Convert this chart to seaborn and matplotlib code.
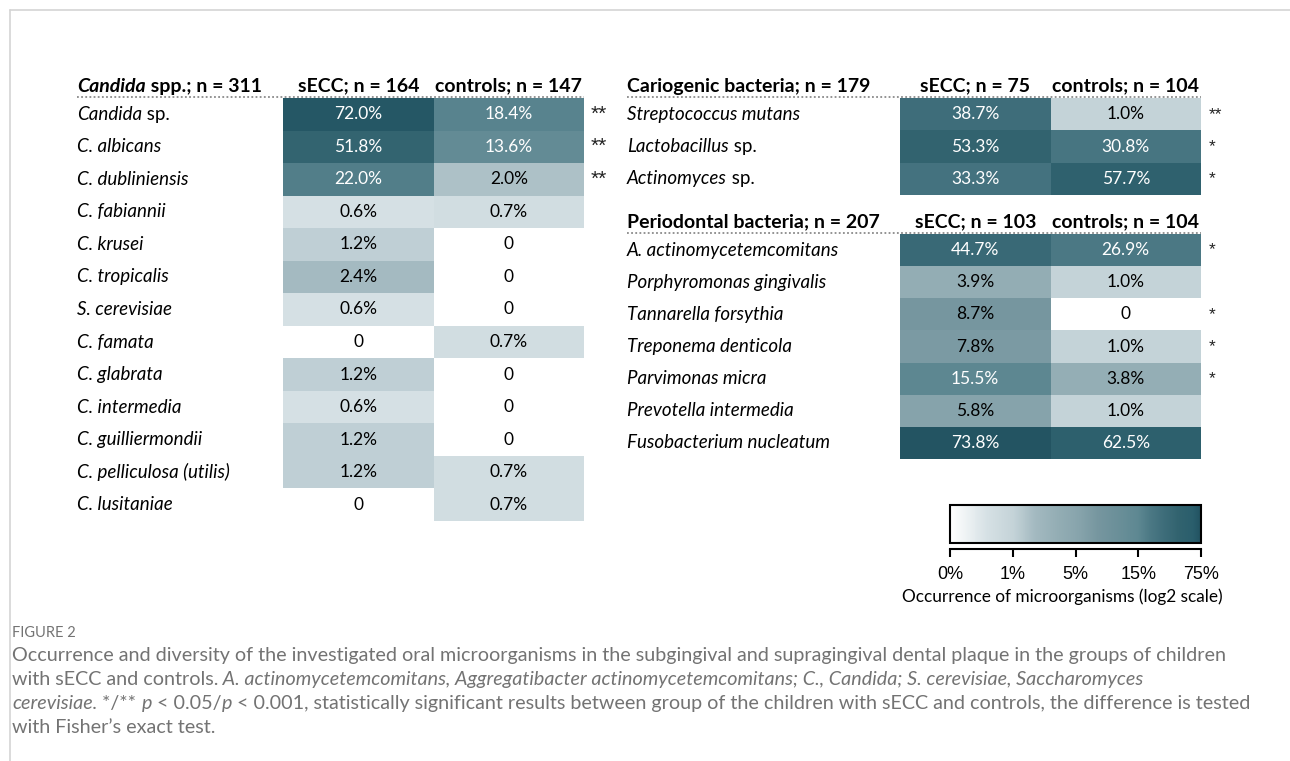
import numpy as np
import pandas as pd
import matplotlib
matplotlib.use("Agg")
import matplotlib.pyplot as plt
import seaborn as sns
from matplotlib import colors as mcolors
from matplotlib import transforms as mtrans
from matplotlib.lines import Line2D

sns.set_theme(style="white")
plt.rcParams['font.family'] = ['Lato', 'DejaVu Sans']

# --- data -------------------------------------------------------------
candida_labels = ["Candida sp.", "C. albicans", "C. dubliniensis", "C. fabiannii",
                  "C. krusei", "C. tropicalis", "S. cerevisiae", "C. famata",
                  "C. glabrata", "C. intermedia", "C. guilliermondii",
                  "C. pelliculosa (utilis)", "C. lusitaniae"]
candida_secc = [72.0, 51.8, 22.0, 0.6, 1.2, 2.4, 0.6, 0, 1.2, 0.6, 1.2, 1.2, 0]
candida_ctrl = [18.4, 13.6, 2.0, 0.7, 0, 0, 0, 0.7, 0, 0, 0, 0.7, 0.7]
candida_sig = ["**", "**", "**", "", "", "", "", "", "", "", "", "", ""]
candida_head = ["Candida spp.; n = 311", "sECC; n = 164", "controls; n = 147"]

cario_labels = ["Streptococcus mutans", "Lactobacillus sp.", "Actinomyces sp."]
cario_secc = [38.7, 53.3, 33.3]
cario_ctrl = [1.0, 30.8, 57.7]
cario_sig = ["**", "*", "*"]
cario_head = ["Cariogenic bacteria; n = 179", "sECC; n = 75", "controls; n = 104"]

perio_labels = ["A. actinomycetemcomitans", "Porphyromonas gingivalis",
                "Tannarella forsythia", "Treponema denticola", "Parvimonas micra",
                "Prevotella intermedia", "Fusobacterium nucleatum"]
perio_secc = [44.7, 3.9, 8.7, 7.8, 15.5, 5.8, 73.8]
perio_ctrl = [26.9, 1.0, 0, 1.0, 3.8, 1.0, 62.5]
perio_sig = ["*", "", "*", "*", "*", "", ""]
perio_head = ["Periodontal bacteria; n = 207", "sECC; n = 103", "controls; n = 104"]

cbar_ticks = [0, 1, 5, 15, 75]
cbar_ticklabels = ["0%", "1%", "5%", "15%", "75%"]

# --- colour scale: ticks evenly spaced on the bar ---------------------
tick_pos = np.linspace(0, 1, len(cbar_ticks))
norm = mcolors.FuncNorm((lambda v: np.interp(v, cbar_ticks, tick_pos),
                         lambda p: np.interp(p, tick_pos, cbar_ticks)),
                        vmin=0, vmax=75)
cmap = mcolors.LinearSegmentedColormap.from_list("occ", [
    (0.0, "#ffffff"), (0.15, "#d5e0e4"), (0.25, "#c4d3d8"), (0.34, "#a3b9c0"),
    (0.43, "#93adb4"), (0.52, "#86a3ab"), (0.59, "#76969f"), (0.75, "#5e8892"),
    (0.80, "#4b7884"), (0.85, "#3e6d7a"), (0.91, "#32636f"), (0.97, "#2a5e6c"),
    (1.0, "#225261")])

W, H = 1290, 761
fig = plt.figure(figsize=(W / 100, H / 100), dpi=100)
renderer = fig.canvas.get_renderer()


def px_axes(x0, y0, x1, y1):
    return fig.add_axes([x0 / W, 1 - y1 / H, (x1 - x0) / W, (y1 - y0) / H])


def rich(x, y, parts, transform, **kw):
    # draw text pieces one after another (mixed italic / upright)
    dx = 0
    for s, style in parts:
        t = fig.text(x, y, s, fontstyle=style, ha='left',
                     transform=mtrans.offset_copy(transform, fig=fig, x=dx, units='dots'), **kw)
        dx += t.get_window_extent(renderer).width


def split_name(name):
    for suffix in (" spp.", " sp."):
        if suffix in name:
            i = name.index(suffix)
            return [(name[:i], 'italic'), (name[i:], 'normal')]
    return [(name, 'italic')]


def draw_table(ax, labels, secc, ctrl, sig, head, label_x, star_x, star_size):
    df = pd.DataFrame({"sECC": secc, "controls": ctrl}, index=labels)
    annot = df.map(lambda v: "0" if v == 0 else f"{v:.1f}%")
    sns.heatmap(df, ax=ax, cmap=cmap, norm=norm, cbar=False, annot=annot, fmt="",
                annot_kws=dict(fontsize=12.5), linewidths=0)
    for t, v in zip(ax.texts, df.values.ravel()):
        t.set_color("white" if v >= 10 else "black")

    # column headers on top
    ax.xaxis.tick_top()
    ax.set_xticklabels(head[1:], rotation=0, fontsize=14, fontweight='bold', color='black')
    ax.tick_params(axis='x', length=0, pad=2.5, top=True, bottom=False)
    ax.set_yticks([])
    ax.set_ylabel("")

    # row labels and significance marks
    tr = mtrans.blended_transform_factory(fig.transFigure, ax.transData)
    for i, name in enumerate(labels):
        rich(label_x / W, i + 0.5, split_name(name), tr, fontsize=13.5, va='center', color='black')
        if sig[i]:
            fig.text(star_x / W, i + 0.5, sig[i], transform=tr, fontsize=star_size,
                     va='center', ha='left', color='#222222', family='Liberation Sans')

    # first header + dotted rule
    htr = mtrans.blended_transform_factory(fig.transFigure, ax.transAxes)
    htr = mtrans.offset_copy(htr, fig=fig, y=2.5, units='points')
    rich(label_x / W, 1.0, split_name(head[0]) if "spp." in head[0] else [(head[0], 'normal')],
         htr, fontsize=14, fontweight='bold', va='bottom', color='black')
    pos = ax.get_position()
    fig.add_artist(Line2D([label_x / W, pos.x1], [pos.y1 + 1 / H, pos.y1 + 1 / H],
                          transform=fig.transFigure, color='#8a8a8a', lw=1.3,
                          linestyle=(0, (1, 1.3))))


ax_c = px_axes(283, 98, 584, 521)
ax_k = px_axes(900, 98, 1201, 195)
ax_p = px_axes(900, 234, 1201, 459)
cax = px_axes(950, 505, 1201, 543)

draw_table(ax_c, candida_labels, candida_secc, candida_ctrl, candida_sig, candida_head, 77, 591, 15)
draw_table(ax_k, cario_labels, cario_secc, cario_ctrl, cario_sig, cario_head, 627, 1209, 12.5)
draw_table(ax_p, perio_labels, perio_secc, perio_ctrl, perio_sig, perio_head, 627, 1209, 12.5)

# --- colour bar -------------------------------------------------------
cb = fig.colorbar(ax_c.collections[0], cax=cax, orientation='horizontal', ticks=cbar_ticks)
cb.outline.set_linewidth(1.5)
cb.outline.set_edgecolor('black')
cax.set_xticklabels(cbar_ticklabels)
cax.spines['bottom'].set_visible(True)
cax.spines['bottom'].set_position(('outward', 4.5))
cax.spines['bottom'].set_linewidth(1.5)
cax.spines['bottom'].set_color('black')
cax.tick_params(axis='x', bottom=True, length=6, width=1.5, color='black',
                labelsize=13, pad=6, labelcolor='black')
cax.minorticks_off()
for lab in cax.get_xticklabels():
    lab.set_fontfamily('Liberation Sans')
cax.set_xlabel("Occurrence of microorganisms (log2 scale)", fontsize=12.4, color='black')
cax.xaxis.set_label_coords(0.446, -1.2)

# --- caption ----------------------------------------------------------
cap_kw = dict(fontsize=14.2, color='#737373', va='baseline')
ftr = fig.transFigure
fig.text(12 / W, 1 - 637 / H, "FIGURE 2", fontsize=10.5, color='#737373')
rich(12 / W, 1 - 661 / H, [("Occurrence and diversity of the investigated oral microorganisms in the "
                            "subgingival and supragingival dental plaque in the groups of children", 'normal')],
     ftr, **cap_kw)
rich(12 / W, 1 - 685 / H, [("with sECC and controls.", 'normal'),
                           (" A. actinomycetemcomitans, Aggregatibacter actinomycetemcomitans; C., Candida; "
                            "S. cerevisiae, Saccharomyces", 'italic')], ftr, **cap_kw)
rich(12 / W, 1 - 709 / H, [("cerevisiae.", 'italic'), (" */** ", 'normal'), ("p", 'italic'),
                           (" < 0.05/", 'normal'), ("p", 'italic'),
                           (" < 0.001, statistically significant results between group of the children "
                            "with sECC and controls, the difference is tested", 'normal')], ftr, **cap_kw)
rich(12 / W, 1 - 733 / H, [("with Fisher\u2019s exact test.", 'normal')], ftr, **cap_kw)

# frame lines
fig.add_artist(Line2D([10 / W, 1], [1 - 10 / H, 1 - 10 / H], transform=ftr, color='#d4d4d4', lw=1.2))
fig.add_artist(Line2D([10 / W, 10 / W], [0, 1 - 10 / H], transform=ftr, color='#d4d4d4', lw=1.2))

fig.savefig("out.png", dpi=100, facecolor='white')
